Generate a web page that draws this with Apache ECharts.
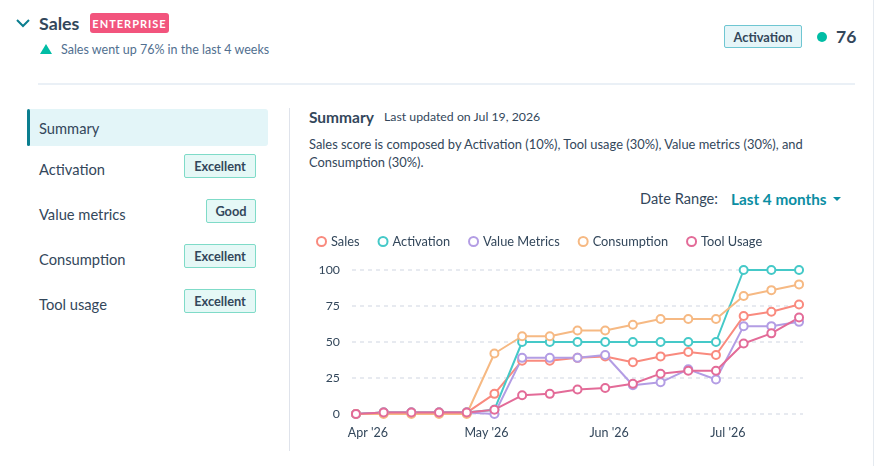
<!DOCTYPE html>
<html>
<head>
<meta charset="utf-8">
<script src="https://cdn.jsdelivr.net/npm/echarts@6/dist/echarts.min.js"></script>
<style>
  html, body { margin:0; padding:0; background:#fff; }
  body { width:882px; height:466px; position:relative; overflow:hidden; font-family: Lato, "Open Sans", sans-serif; color:#33475b; }
  .abs { position:absolute; white-space:nowrap; }
  .badge { position:absolute; box-sizing:border-box; border:1px solid #7fdbc8; background:#e5f8f6; border-radius:2px; font-weight:700; font-size:12.8px; color:#33475b; display:flex; align-items:center; justify-content:center; }
  .navitem { position:absolute; left:39px; font-size:14.7px; color:#33475b; line-height:18px; }
  #chart { position:absolute; left:0; top:0; width:882px; height:466px; }
</style>
</head>
<body>
<!-- header -->
<svg class="abs" style="left:15px;top:16px" width="16" height="14"><polyline points="2,4 8,10 14,4" fill="none" stroke="#0b7e8f" stroke-width="2"/></svg>
<div class="abs" style="left:39px;top:12px;font-size:17.8px;font-weight:700;line-height:22px;color:#33475b">Sales</div>
<div class="abs" style="left:90px;top:13px;width:79px;height:20px;background:#f2547d;border-radius:3px;color:#fff;font-weight:700;font-size:11px;letter-spacing:1px;display:flex;align-items:center;justify-content:center">ENTERPRISE</div>
<svg class="abs" style="left:39px;top:43px" width="14" height="12"><polygon points="7,1 13,11 1,11" fill="#00bda5"/></svg>
<div class="abs" style="left:61px;top:42px;font-size:12.5px;line-height:16px;color:#516f90">Sales went up 76% in the last 4 weeks</div>
<div class="abs" style="left:724px;top:25px;width:78px;height:23px;box-sizing:border-box;border:1px solid #6fc6d2;background:#e5f5f8;border-radius:2px;font-weight:700;font-size:12.8px;display:flex;align-items:center;justify-content:center;color:#33475b">Activation</div>
<div class="abs" style="left:817px;top:32px;width:10px;height:10px;border-radius:50%;background:#00bda5"></div>
<div class="abs" style="left:836px;top:26px;font-size:17.5px;font-weight:700;line-height:22px;color:#33475b">76</div>
<div class="abs" style="left:873px;top:0;width:1px;height:466px;background:#e5eaf0"></div>
<div class="abs" style="left:38px;top:83px;width:817px;height:2px;background:#eaf0f6"></div>

<!-- sidebar -->
<div class="abs" style="left:27px;top:109px;width:241px;height:37px;background:#e3f5f8;border-radius:3px"></div>
<div class="abs" style="left:27px;top:109px;width:3px;height:37px;background:#0b7e8f;border-radius:2px"></div>
<div class="navitem" style="top:119px">Summary</div>
<div class="navitem" style="top:160px">Activation</div>
<div class="navitem" style="top:205px">Value metrics</div>
<div class="navitem" style="top:250px">Consumption</div>
<div class="navitem" style="top:295px">Tool usage</div>
<div class="badge" style="left:184px;top:154px;width:72px;height:24px">Excellent</div>
<div class="badge" style="left:206px;top:199px;width:50px;height:24px">Good</div>
<div class="badge" style="left:184px;top:244px;width:72px;height:24px">Excellent</div>
<div class="badge" style="left:184px;top:289px;width:72px;height:24px">Excellent</div>
<div class="abs" style="left:289px;top:108px;width:1px;height:343px;background:#dfe3eb"></div>

<!-- right panel text -->
<div class="abs" style="left:309px;top:108px;font-size:15.5px;font-weight:700;line-height:18px">Summary</div>
<div class="abs" style="left:384px;top:109px;font-size:12.3px;line-height:16px">Last updated on Jul 19, 2026</div>
<div class="abs" style="left:309px;top:135px;font-size:12.9px;line-height:18px">Sales score is composed by Activation (10%), Tool usage (30%), Value metrics (30%), and<br>Consumption (30%).</div>
<div class="abs" style="left:640px;top:190px;font-size:14.6px;line-height:18px">Date Range:</div>
<div class="abs" style="left:731px;top:190px;font-size:15.3px;font-weight:700;line-height:18px;color:#0b8ea3">Last 4 months</div>
<svg class="abs" style="left:833px;top:196px" width="8" height="6"><polygon points="0,1 8,1 4,5" fill="#0b8ea3"/></svg>

<div id="chart"></div>
<script>
const dates = ['2026-03-29','2026-04-05','2026-04-12','2026-04-19','2026-04-26','2026-05-03','2026-05-10','2026-05-17','2026-05-24','2026-05-31','2026-06-07','2026-06-14','2026-06-21','2026-06-28','2026-07-05','2026-07-12','2026-07-19'];
const seriesNames = ['Sales','Activation','Value Metrics','Consumption','Tool Usage'];
const sales        = [0, 1, 1, 1, 1, 14, 37, 37, 39, 40, 36, 40, 43, 41, 68, 71, 76];
const activation   = [0, 1, 1, 1, 1, 3, 50, 50, 50, 50, 50, 50, 50, 50, 100, 100, 100];
const valueMetrics = [0, 1, 1, 1, 1, 0, 39, 39, 39, 41, 20, 22, 31, 24, 61, 61, 64];
const consumption  = [0, 0, 0, 0, 0, 42, 54, 54, 58, 58, 62, 66, 66, 66, 82, 86, 90];
const toolUsage    = [0, 1, 1, 1, 1, 3, 13, 14, 17, 18, 21, 28, 30, 30, 49, 56, 67];
const yTicks = [0, 25, 50, 75, 100];
const monthNames = ['Jan','Feb','Mar','Apr','May','Jun','Jul','Aug','Sep','Oct','Nov','Dec'];
const colors = ['#f98a7e','#45c9c8','#b39de4','#f6b983','#e36b98'];

const allValues = [sales, activation, valueMetrics, consumption, toolUsage];
const chart = echarts.init(document.getElementById('chart'));
chart.setOption({
  animation: false,
  color: colors,
  legend: {
    left: 311, top: 230,
    icon: 'emptyCircle', itemWidth: 9, itemHeight: 9, itemGap: 18,
    textStyle: { fontFamily: 'Lato', fontSize: 12.8, color: '#33475b' },
    data: seriesNames
  },
  grid: { left: 352, right: 79, top: 270, bottom: 52 },
  xAxis: {
    type: 'time',
    min: '2026-03-28', max: '2026-07-20',
    splitNumber: 4,
    minInterval: 28 * 86400000,
    axisLine: { show: false },
    axisTick: { show: false },
    splitLine: { show: false },
    axisLabel: {
      margin: 12,
      fontFamily: 'Lato', fontSize: 12.5, color: '#33475b',
      formatter: function (v) { const d = new Date(v); return monthNames[d.getMonth()] + " '" + String(d.getFullYear()).slice(2); }
    }
  },
  yAxis: {
    type: 'value', min: yTicks[0], max: yTicks[yTicks.length - 1], interval: 25,
    axisLine: { show: false }, axisTick: { show: false },
    axisLabel: { margin: 12, fontFamily: 'Lato', fontSize: 12.3, color: '#33475b' },
    splitLine: { lineStyle: { type: [4, 4], color: '#dfe3eb', width: 1.5 } }
  },
  series: seriesNames.map((name, i) => ({
    name: name,
    type: 'line',
    data: dates.map((d, j) => [d, allValues[i][j]]),
    symbol: 'emptyCircle',
    symbolSize: 8,
    showAllSymbol: true,
    lineStyle: { width: 2 },
    itemStyle: { borderWidth: 2 }
  }))
});
</script>
</body>
</html>
